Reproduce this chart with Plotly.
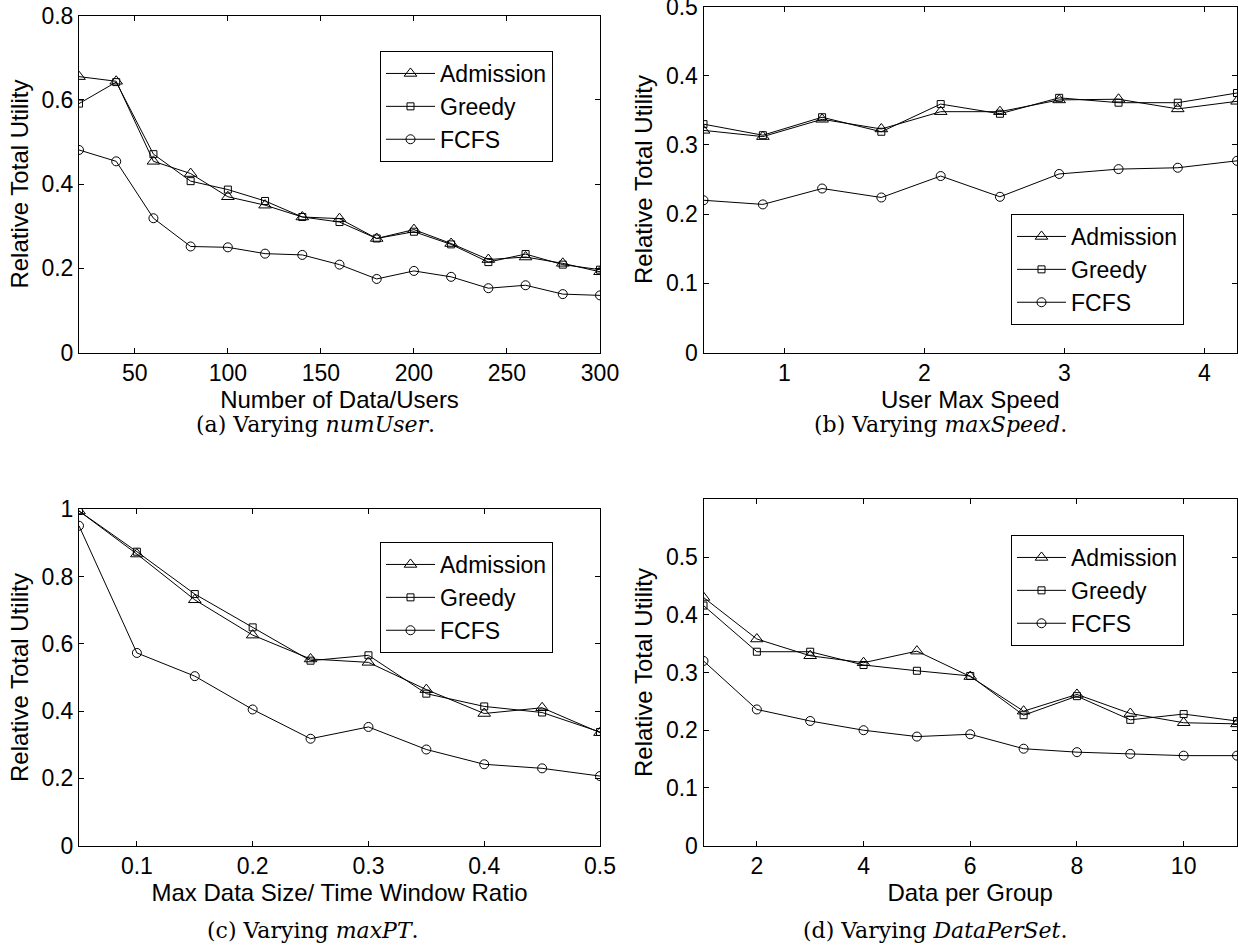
import plotly.graph_objects as go

# ---------------- data ----------------
series_names = ["Admission", "Greedy", "FCFS"]

# (a) Varying numUser
a_x = [20, 40, 60, 80, 100, 120, 140, 160, 180, 200, 220, 240, 260, 280, 300]
a_admission = [0.655, 0.644, 0.454, 0.425, 0.370, 0.350, 0.322, 0.318, 0.271, 0.292, 0.259, 0.221, 0.227, 0.212, 0.192]
a_greedy = [0.591, 0.642, 0.471, 0.407, 0.387, 0.360, 0.322, 0.310, 0.271, 0.287, 0.257, 0.215, 0.234, 0.209, 0.197]
a_fcfs = [0.481, 0.454, 0.319, 0.252, 0.250, 0.235, 0.232, 0.209, 0.175, 0.194, 0.180, 0.153, 0.160, 0.139, 0.136]

# (b) Varying maxSpeed
b_x = [0.423, 0.847, 1.270, 1.693, 2.117, 2.540, 2.963, 3.387, 3.810, 4.233]
b_admission = [0.321, 0.312, 0.337, 0.323, 0.348, 0.348, 0.365, 0.366, 0.352, 0.363]
b_greedy = [0.330, 0.314, 0.340, 0.319, 0.359, 0.345, 0.368, 0.361, 0.361, 0.375]
b_fcfs = [0.220, 0.214, 0.237, 0.224, 0.255, 0.225, 0.258, 0.265, 0.267, 0.277]

# (c) Varying maxPT
c_x = [0.05, 0.10, 0.15, 0.20, 0.25, 0.30, 0.35, 0.40, 0.45, 0.50]
c_admission = [0.995, 0.867, 0.731, 0.626, 0.555, 0.545, 0.464, 0.393, 0.410, 0.336]
c_greedy = [0.995, 0.874, 0.748, 0.649, 0.550, 0.566, 0.452, 0.414, 0.396, 0.338]
c_fcfs = [0.951, 0.573, 0.504, 0.405, 0.318, 0.353, 0.286, 0.242, 0.230, 0.207]

# (d) Varying DataPerSet
d_x = [1, 2, 3, 4, 5, 6, 7, 8, 9, 10, 11]
d_admission = [0.430, 0.358, 0.329, 0.317, 0.337, 0.293, 0.233, 0.262, 0.229, 0.213, 0.211]
d_greedy = [0.416, 0.336, 0.336, 0.313, 0.303, 0.294, 0.226, 0.259, 0.218, 0.228, 0.216]
d_fcfs = [0.320, 0.236, 0.216, 0.200, 0.189, 0.193, 0.168, 0.162, 0.159, 0.156, 0.156]

x_titles = ["Number of Data/Users", "User Max Speed",
            "Max Data Size/ Time Window Ratio", "Data per Group"]
y_title = "Relative Total Utility"
captions = ["(a) Varying <i>numUser</i>.", "(b) Varying <i>maxSpeed</i>.",
            "(c) Varying <i>maxPT</i>.", "(d) Varying <i>DataPerSet</i>."]

x_ranges = [[20, 300], [0.423, 4.233], [0.05, 0.5], [1, 11]]
x_ticks = [[50, 100, 150, 200, 250, 300], [1, 2, 3, 4],
           [0.1, 0.2, 0.3, 0.4, 0.5], [2, 4, 6, 8, 10]]
y_ranges = [[0, 0.8], [0, 0.5], [0, 1.0], [0, 0.6]]
y_ticks = [[0, 0.2, 0.4, 0.6, 0.8], [0, 0.1, 0.2, 0.3, 0.4, 0.5],
           [0, 0.2, 0.4, 0.6, 0.8, 1.0], [0, 0.1, 0.2, 0.3, 0.4, 0.5]]

panels = [
    (a_x, [a_admission, a_greedy, a_fcfs]),
    (b_x, [b_admission, b_greedy, b_fcfs]),
    (c_x, [c_admission, c_greedy, c_fcfs]),
    (d_x, [d_admission, d_greedy, d_fcfs]),
]

# ---------------- layout geometry (pixels) ----------------
W, H = 1238, 945
boxes = [  # left, right, top, bottom
    (79, 600, 15.5, 352.7),
    (703.5, 1237, 6.5, 352.5),
    (79, 600, 509.3, 845.7),
    (703.5, 1237, 499.3, 845.7),
]
legend_pos = [(380, 51), (1011, 214), (380, 542), (1011, 535)]
caption_pos = [(315, 424), (940, 424), (313, 930), (935, 930)]

symbols = ["triangle-up-open", "square-open", "circle-open"]
msizes = [11, 7, 9]
FONT = "Liberation Sans, Arial, Helvetica, sans-serif"

fig = go.Figure()
layout = dict(
    width=W, height=H,
    margin=dict(l=0, r=0, t=0, b=0, autoexpand=False),
    paper_bgcolor="white", plot_bgcolor="white",
    font=dict(family=FONT, color="black", size=23),
    annotations=[],
)

for i, (xs, ys_list) in enumerate(panels):
    k = "" if i == 0 else str(i + 1)
    leg = "legend" + k
    for j, ys in enumerate(ys_list):
        fig.add_trace(go.Scatter(
            x=xs, y=ys, name=series_names[j], mode="lines+markers",
            line=dict(color="black", width=1),
            marker=dict(symbol=symbols[j], size=msizes[j], color="black",
                        line=dict(color="black", width=1)),
            xaxis="x" + k, yaxis="y" + k, legend=leg,
        ))
    l, r, t, b = boxes[i]
    common = dict(showline=True, linecolor="black", linewidth=1, mirror="ticks",
                  ticks="inside", ticklen=5, tickwidth=1, tickcolor="black",
                  showgrid=False, zeroline=False, automargin=False,
                  ticklabeloverflow="allow",
                  tickfont=dict(family=FONT, size=23, color="black"))
    layout["xaxis" + k] = dict(
        common, domain=[l / W, r / W], anchor="y" + k, range=x_ranges[i],
        tickvals=x_ticks[i],
        title=dict(text=x_titles[i], font=dict(family=FONT, size=24), standoff=0),
    )
    layout["yaxis" + k] = dict(
        common, domain=[1 - b / H, 1 - t / H], anchor="x" + k, range=y_ranges[i],
        tickvals=y_ticks[i],
        title=dict(text=y_title, font=dict(family=FONT, size=24), standoff=6),
    )
    lx, ly = legend_pos[i]
    layout[leg] = dict(
        x=lx / W, y=1 - ly / H, xanchor="left", yanchor="top",
        xref="paper", yref="paper",
        bgcolor="white", bordercolor="black", borderwidth=1,
        font=dict(family=FONT, size=23, color="black"),
        itemwidth=49, tracegroupgap=0,
    )
    cx, cy = caption_pos[i]
    layout["annotations"].append(dict(
        text=captions[i], x=cx / W, y=1 - cy / H, xref="paper", yref="paper",
        xanchor="center", yanchor="middle", showarrow=False,
        font=dict(family="DejaVu Serif, serif", size=22, color="black"),
    ))

fig.update_layout(**layout)
fig.write_html(
    "out.html",
    config={"displayModeBar": False},
    post_script="document.body.style.margin='0';document.body.style.overflow='hidden';",
)
